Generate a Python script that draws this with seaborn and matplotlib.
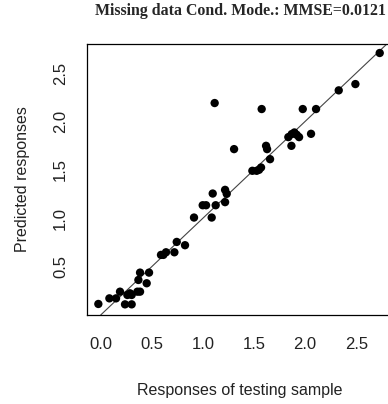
import matplotlib
matplotlib.use("Agg")
import matplotlib.pyplot as plt
import seaborn as sns
import pandas as pd

observed = [-0.023, 0.085, 0.150, 0.189, 0.238, 0.303, 0.261, 0.287, 0.303, 0.359,
            0.385, 0.369, 0.385, 0.473, 0.450, 0.590, 0.613, 0.639, 0.721, 0.744,
            0.825, 0.913, 0.998, 1.031, 1.086, 1.096, 1.125, 1.115, 1.217, 1.233,
            1.217, 1.305, 1.484, 1.526, 1.549, 1.569, 1.575, 1.618, 1.628, 1.657,
            1.836, 1.869, 1.895, 1.918, 1.941, 1.866, 1.977, 2.058, 2.107, 2.329,
            2.492, 2.730]
predicted = [0.114, 0.172, 0.172, 0.241, 0.110, 0.110, 0.207, 0.224, 0.207, 0.241,
             0.241, 0.362, 0.438, 0.438, 0.328, 0.621, 0.621, 0.648, 0.648, 0.755,
             0.721, 1.007, 1.134, 1.134, 1.007, 1.255, 1.134, 2.190, 1.293, 1.252,
             1.166, 1.714, 1.490, 1.490, 1.500, 1.524, 2.128, 1.748, 1.714, 1.610,
             1.838, 1.869, 1.886, 1.862, 1.838, 1.748, 2.128, 1.872, 2.128, 2.321,
             2.386, 2.707]
x_ticks = [0.0, 0.5, 1.0, 1.5, 2.0, 2.5]
y_ticks = [0.5, 1.0, 1.5, 2.0, 2.5]
title = "Missing data Cond. Mode.: MMSE=0.0121"
xlabel = "Responses of testing sample"
ylabel = "Predicted responses"

df = pd.DataFrame({"obs": observed, "pred": predicted})

sns.set_style("white")
plt.rcParams['font.family'] = ['Liberation Sans', 'DejaVu Sans']

fig = plt.figure(figsize=(3.88, 4.04), dpi=100)
ax = fig.add_axes([87/388, 89/404, 306/388, 271/404])

sns.scatterplot(data=df, x="obs", y="pred", ax=ax, color="black", s=36,
                edgecolor="none", linewidth=0, zorder=3)
ax.axline((0, 0), (1, 1), color="#444444", linewidth=0.8, zorder=2)

ax.set_xlim(-0.134, 2.86)
ax.set_ylim(0.0, 2.80)
ax.set_xticks(x_ticks)
ax.set_xticklabels([f"{v:.1f}" for v in x_ticks])
ax.set_yticks(y_ticks)
ax.set_yticklabels([f"{v:.1f}" for v in y_ticks], rotation=90, va="center")

for s in ax.spines.values():
    s.set_color("black")
    s.set_linewidth(0.9)
ax.tick_params(axis="both", direction="out", length=6.5, width=0.8,
               color="black", labelsize=12, labelcolor="#222222")
ax.tick_params(axis="x", pad=9)
ax.tick_params(axis="y", pad=7)

ax.set_xlabel(xlabel, fontsize=11.5, color="#222222", labelpad=23)
ax.set_ylabel(ylabel, fontsize=11.5, color="#222222", labelpad=17)

ax.text(0.5, 1 + (44 - 11) / 271, title, transform=ax.transAxes,
        ha="center", va="center", fontsize=11.4, fontweight="bold",
        family=["Liberation Serif", "DejaVu Serif"])

fig.savefig("out.png", dpi=100)
